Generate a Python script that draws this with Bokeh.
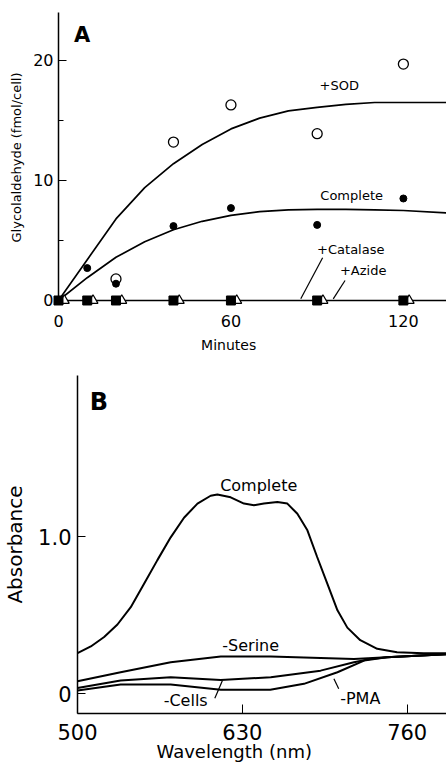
from bokeh.plotting import figure
from bokeh.models import ColumnDataSource, Range1d, FixedTicker
from bokeh.core.properties import value
from bokeh.transform import dodge
from bokeh.embed import file_html
from bokeh.resources import INLINE

FONT = "DejaVu Sans"

# ---------------- Panel A data ----------------
sod_t = [20, 40, 60, 90, 120]
sod_v = [1.8, 13.2, 16.3, 13.9, 19.7]
complete_t = [10, 20, 40, 60, 90, 120]
complete_v = [2.7, 1.4, 6.2, 7.7, 6.3, 8.5]
catalase_t = [0, 10, 20, 40, 60, 90, 120]
catalase_v = [0, 0, 0, 0, 0, 0, 0]
azide_t = [0, 10, 20, 40, 60, 90, 120]
azide_v = [0, 0, 0, 0, 0, 0, 0]

sod_fit_t = [0, 10, 20, 30, 40, 50, 60, 70, 80, 90, 100, 110, 120, 135]
sod_fit_v = [0, 3.4, 6.8, 9.4, 11.4, 13.0, 14.3, 15.2, 15.8, 16.1, 16.35, 16.5, 16.5, 16.5]
complete_fit_t = [0, 10, 20, 30, 40, 50, 60, 70, 80, 90, 100, 110, 120, 135]
complete_fit_v = [0, 1.9, 3.6, 4.9, 5.9, 6.6, 7.1, 7.4, 7.55, 7.6, 7.6, 7.55, 7.5, 7.3]
baseline_t = [0, 135]
baseline_v = [0, 0]

a_label_text = ["+SOD", "Complete", "+Catalase", "+Azide"]
a_label_x = [97.7, 102, 101.7, 106]
a_label_y = [17.9, 8.75, 4.22, 2.5]
a_arrow_x0 = [91.9, 99.7]
a_arrow_y0 = [3.56, 1.67]
a_arrow_x1 = [84.3, 95.6]
a_arrow_y1 = [0.14, 0.14]
a_xtitle = "Minutes"
a_ytitle = "Glycolaldehyde (fmol/cell)"

# ---------------- Panel B data ----------------
wl_complete = [500, 510.5, 521, 531.5, 542, 552.5, 563, 573.5, 584, 594.6, 605, 610.3,
               620.8, 631.3, 639.2, 647, 657.6, 665.5, 673.4, 681.3, 689, 697, 705,
               712.8, 723, 736.4, 752, 773, 791]
abs_complete = [0.257, 0.30, 0.36, 0.44, 0.55, 0.70, 0.85, 0.995, 1.12, 1.21, 1.26, 1.268,
                1.25, 1.21, 1.20, 1.21, 1.22, 1.21, 1.145, 1.04, 0.87, 0.70, 0.53,
                0.42, 0.34, 0.285, 0.263, 0.257, 0.257]
wl_serine = [500, 534, 573.5, 613, 652.4, 691.7, 718, 744, 791]
abs_serine = [0.078, 0.136, 0.20, 0.236, 0.236, 0.227, 0.22, 0.231, 0.25]
wl_cells = [500, 534, 573.5, 613, 652.4, 691.7, 718, 731, 744, 791]
abs_cells = [0.035, 0.083, 0.104, 0.087, 0.104, 0.146, 0.20, 0.22, 0.231, 0.25]
wl_pma = [500, 534, 573.5, 613, 652, 678.6, 705, 726, 744, 791]
abs_pma = [0.02, 0.057, 0.057, 0.024, 0.024, 0.062, 0.136, 0.21, 0.231, 0.25]

b_label_text = ["Complete", "-Serine", "-Cells", "-PMA"]
b_label_x = [642.9, 636.6, 585.3, 723]
b_label_y = [1.325, 0.306, -0.045, -0.034]
b_arrow_x0 = [608.3, 706]
b_arrow_y0 = [-0.03, 0.03]
b_arrow_x1 = [614.3, 702.2]
b_arrow_y1 = [0.083, 0.094]
b_xtitle = "Wavelength (nm)"
b_ytitle = "Absorbance"


def style_common(p):
    p.xgrid.grid_line_color = None
    p.ygrid.grid_line_color = None
    p.outline_line_color = None
    p.background_fill_color = "white"
    p.border_fill_color = "white"
    for ax in (p.xaxis, p.yaxis):
        ax.major_label_text_color = "black"
        ax.axis_label_text_color = "black"
        ax.axis_line_color = "black"
        ax.major_tick_line_color = "black"
        ax.minor_tick_line_color = "black"


# ---------------- Panel A ----------------
pa = figure(width=446, height=358, output_backend="svg", toolbar_location=None,
            x_range=Range1d(0, 135), y_range=Range1d(-0.1667, 24.0),
            min_border_left=58, min_border_right=0, min_border_top=12, min_border_bottom=56)
style_common(pa)

pa.line(sod_fit_t, sod_fit_v, line_color="black", line_width=1.7)
pa.line(complete_fit_t, complete_fit_v, line_color="black", line_width=1.7)
pa.line(baseline_t, baseline_v, line_color="black", line_width=1.5)

az_src = ColumnDataSource(dict(t=azide_t, v=azide_v))
r = pa.scatter(dodge("t", 2.0, range=pa.x_range), "v", source=az_src, marker="triangle",
               size=10, fill_color="white", line_color="black", line_width=1.2)
r.level = "overlay"
r = pa.scatter(catalase_t, catalase_v, marker="square", size=9, fill_color="black",
               line_color="black")
r.level = "overlay"
r = pa.scatter(sod_t, sod_v, marker="circle", size=10, fill_color="white",
               line_color="black", line_width=1.3)
r.level = "overlay"
r = pa.scatter(complete_t, complete_v, marker="circle", size=7, fill_color="black",
               line_color="black")
r.level = "overlay"

pa.segment(a_arrow_x0, a_arrow_y0, a_arrow_x1, a_arrow_y1, line_color="black", line_width=1.2)
pa.text(a_label_x, a_label_y, text=a_label_text, text_font=value(FONT), text_font_size="13px",
        text_align="center", text_baseline="middle", text_color="black")
pa.text([8.2], [22.1], text=["A"], text_font=value(FONT), text_font_size="21px",
        text_font_style="bold", text_align="center", text_baseline="middle")

pa.yaxis.ticker = FixedTicker(ticks=[0, 10, 20], minor_ticks=[5, 15])
pa.yaxis.major_tick_in = 8
pa.yaxis.major_tick_out = 0
pa.yaxis.minor_tick_in = 5
pa.yaxis.minor_tick_out = 0
pa.yaxis.axis_line_width = 1.5
pa.yaxis.major_label_standoff = 5
pa.yaxis.major_label_text_font = FONT
pa.yaxis.major_label_text_font_size = "16px"
pa.yaxis.axis_label = a_ytitle
pa.yaxis.axis_label_text_font = FONT
pa.yaxis.axis_label_text_font_size = "13px"
pa.yaxis.axis_label_text_font_style = "normal"
pa.yaxis.axis_label_standoff = 6

pa.xaxis.ticker = FixedTicker(ticks=[0, 60, 120])
pa.xaxis.axis_line_color = None
pa.xaxis.major_tick_line_color = None
pa.xaxis.minor_tick_line_color = None
pa.xaxis.major_label_standoff = 6
pa.xaxis.major_label_text_font = FONT
pa.xaxis.major_label_text_font_size = "16px"

# x-axis title, centred under the 60-min tick as in the original (drawn unclipped)
t = pa.text([59.2], [-3.7], text=[a_xtitle], text_font=value(FONT), text_font_size="14px",
            text_align="center", text_baseline="middle", text_color="black")
t.level = "overlay"

# ---------------- Panel B ----------------
pb = figure(width=446, height=407, output_backend="svg", toolbar_location=None,
            x_range=Range1d(500, 791), y_range=Range1d(-0.127, 2.026),
            min_border_left=76, min_border_right=0, min_border_top=17, min_border_bottom=52)
style_common(pb)

for wx, wy in [(wl_complete, abs_complete), (wl_serine, abs_serine),
               (wl_cells, abs_cells), (wl_pma, abs_pma)]:
    pb.line(wx, wy, line_color="black", line_width=2)

pb.segment(b_arrow_x0, b_arrow_y0, b_arrow_x1, b_arrow_y1, line_color="black", line_width=1.2)
pb.text(b_label_x, b_label_y, text=b_label_text, text_font=value(FONT), text_font_size="16px",
        text_align="center", text_baseline="middle", text_color="black")
pb.text([516.8], [1.86], text=["B"], text_font=value(FONT), text_font_size="24px",
        text_font_style="bold", text_align="center", text_baseline="middle")

pb.yaxis.ticker = FixedTicker(ticks=[0, 1.0])
pb.yaxis.major_label_overrides = {0: "0", 1: "1.0"}
pb.yaxis.major_tick_in = 8
pb.yaxis.major_tick_out = 0
pb.yaxis.minor_tick_line_color = None
pb.yaxis.axis_line_width = 1.5
pb.yaxis.major_label_standoff = 6
pb.yaxis.major_label_text_font = FONT
pb.yaxis.major_label_text_font_size = "21px"
pb.yaxis.axis_label = b_ytitle
pb.yaxis.axis_label_text_font = FONT
pb.yaxis.axis_label_text_font_size = "20px"
pb.yaxis.axis_label_text_font_style = "normal"
pb.yaxis.axis_label_standoff = 8

pb.xaxis.ticker = FixedTicker(ticks=[500, 630, 760])
pb.xaxis.major_tick_in = 9
pb.xaxis.major_tick_out = 0
pb.xaxis.minor_tick_line_color = None
pb.xaxis.axis_line_width = 1.5
pb.xaxis.major_label_standoff = 10
pb.xaxis.major_label_text_font = FONT
pb.xaxis.major_label_text_font_size = "21px"

t = pb.text([623.6], [-0.372], text=[b_xtitle], text_font=value(FONT), text_font_size="18px",
            text_align="center", text_baseline="middle", text_color="black")
t.level = "overlay"

open("out.html", "w").write(file_html([pa, pb], INLINE))
